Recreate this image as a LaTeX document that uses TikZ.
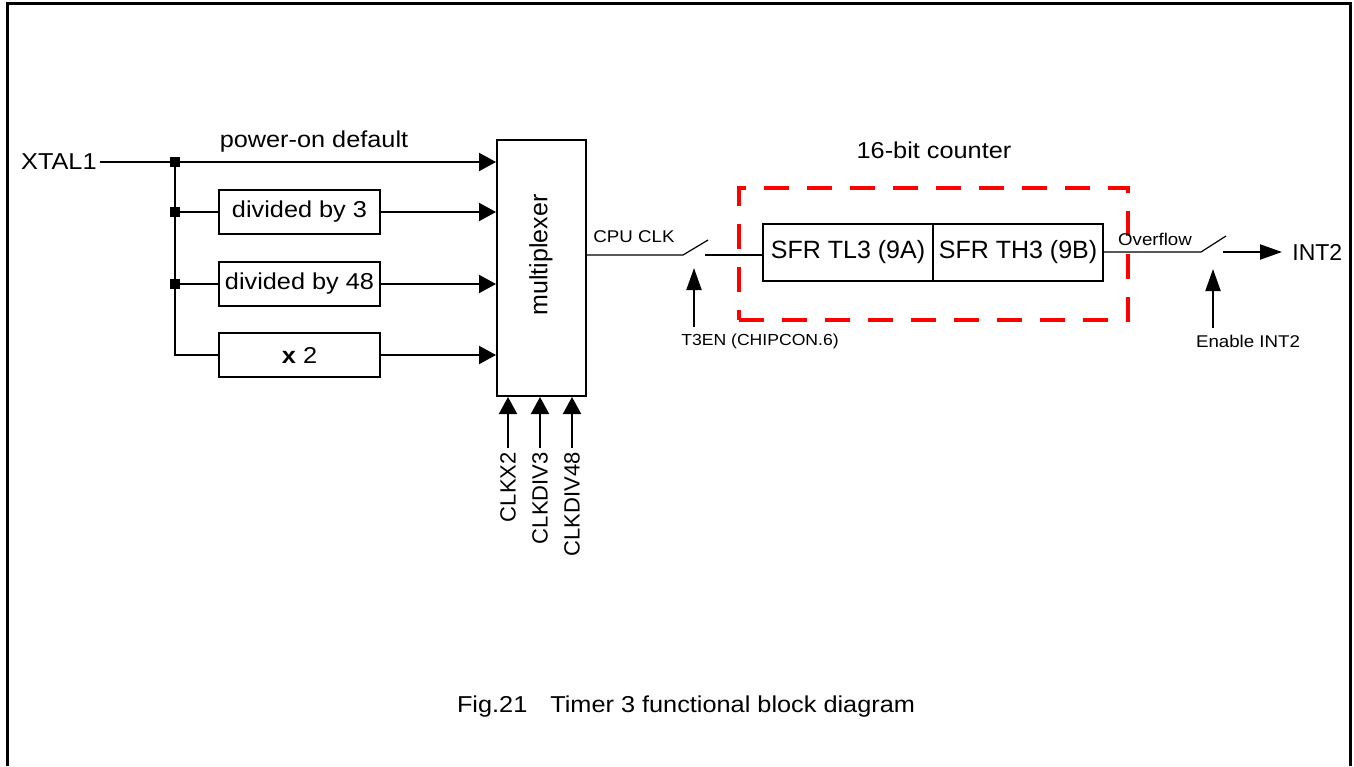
\documentclass[tikz,border=0pt]{standalone}
\usepackage{fontspec}
\setmainfont{Liberation Sans}[FakeStretch = 1.1]
\newfontfamily\rotfont{Liberation Sans}
\usetikzlibrary{arrows.meta}

\tikzset{
    block/.style = {draw, line width = 1pt, inner sep = 0pt, font = \fontsize{11.5}{13}\selectfont},
    dot/.style = {fill, rectangle, inner sep = 0pt, minimum size = 5pt},
    wire/.style = {line width = 1pt},
    thinwire/.style = {line width = 0.6pt},
    feed/.style = {-{Triangle[length = 8.5pt, width = 9pt]}, line width = 1pt},
    ctrl/.style = {-{Triangle[length = 11pt, width = 7.5pt]}, line width = 1pt},
    txt/.style = {inner sep = 0pt, font = \fontsize{11.5}{13}\selectfont},
    small/.style = {inner sep = 3pt, font = \fontsize{8.5}{10}\selectfont},
    rot/.style = {inner sep = 2pt, rotate = 90, font = \rotfont\fontsize{11}{13}\selectfont},
}

\begin{document}
\begin{tikzpicture}[x = 0.5pt, y = -0.5pt]
    \useasboundingbox (0, 0) rectangle (1354, 766);

% Frame
    \draw [line width = 1.5pt] (7, 766) -- (7, 3) -- (1350, 3) -- (1350, 766);

% Nodes
    \node [txt, inner sep = 1.5pt, anchor = east] (xtal) at (100, 162) {XTAL1};
    \node [block, minimum width = 80.5pt, minimum height = 22pt] (div3) at (299.5, 212) {divided by 3};
    \node [block, minimum width = 80.5pt, minimum height = 22pt] (div48) at (299.5, 284) {divided by 48};
    \node [block, minimum width = 80.5pt, minimum height = 22pt] (times2) at (299.5, 355) {\textbf{x} 2};
    \node [block, minimum width = 44.5pt, minimum height = 128pt] (mux) at (541.5, 268) {};
    \node [rot, font = \rotfont\fontsize{12.5}{14}\selectfont] (muxlabel) at (541, 255) {multiplexer};
    \node [block, font = \rotfont\fontsize{12.5}{14}\selectfont, minimum width = 85pt, minimum height = 28.5pt] (tl3) at (848, 252) {SFR TL3 (9A)};
    \node [block, font = \rotfont\fontsize{12.5}{14}\selectfont, minimum width = 85pt, minimum height = 28.5pt] (th3) at (1018, 252) {SFR TH3 (9B)};
    \node [draw = red, line width = 2pt, dash pattern = on 12.5pt off 9pt, minimum width = 194.5pt, minimum height = 66pt] (cnt) at (933.5, 254) {};
    \node [txt, font = \rotfont\fontsize{11.5}{13}\selectfont, inner sep = 5pt, anchor = west] (int2) at (1282, 252) {INT2};

% Junctions
    \node [dot] (j1) at (175, 162) {};
    \node [dot] (j2) at (175, 212) {};
    \node [dot] (j3) at (175, 284) {};
    \coordinate (j4) at (175, 355);

% Switches
    \coordinate (swa) at (683, 255);
    \coordinate (swb) at (708, 240);
    \coordinate (swc) at (705, 255);
    \coordinate (swd) at (1201, 252);
    \coordinate (swe) at (1226, 236);
    \coordinate (swf) at (1223, 252);
    \coordinate (t3tip) at (694, 268);
    \coordinate (entip) at (1213, 269);

% Directions
    \draw [feed] (xtal.east) -- (xtal.east -| mux.west);
    \draw [wire] (j1) -- (j4) -- (times2.west);
    \draw [wire] (j2) -- (div3.west);
    \draw [wire] (j3) -- (div48.west);
    \draw [feed] (div3.east) -- (div3.east -| mux.west);
    \draw [feed] (div48.east) -- (div48.east -| mux.west);
    \draw [feed] (times2.east) -- (times2.east -| mux.west);

    \draw [thinwire] (mux.east |- swa) -- (swa) -- (swb);
    \draw [wire] (swc) -- (swc -| tl3.west);
    \draw [thinwire] (th3.east) -- (swd) -- (swe);
    \draw [ctrl] (swf) -- (int2.west);

% Select lines
    \foreach \x/\name/\lbl in {508/clkx/CLKX2, 540/clkdivthree/CLKDIV3, 572/clkdivfortyeight/CLKDIV48} {
        \node [rot, anchor = east] (\name) at (\x, 448) {\lbl};
        \draw [feed] (\name.east) -- (\name.east |- mux.south);
    }

% Enables
    \node [small, font = \fontsize{8}{10}\selectfont] (t3en) at (760, 341) {T3EN (CHIPCON.6)};
    \node [small] (enint) at (1248, 341) {Enable INT2};
    \draw [ctrl] (t3tip |- t3en.north) -- (t3tip);
    \draw [ctrl] (entip |- enint.north) -- (entip);

% Labels
    \node [txt] (pwron) at (314, 142) {power-on default};
    \node [small, inner sep = 0pt] (cpuclk) at (634, 237) {CPU CLK};
    \node [small, inner sep = 0pt] (ovf) at (1155, 239) {Overflow};
    \node [txt] (cntlabel) at (934, 150) {16-bit counter};
    \node [txt] (caption) at (686, 707) {Fig.21\quad Timer 3 functional block diagram};

\end{tikzpicture}
\end{document}
